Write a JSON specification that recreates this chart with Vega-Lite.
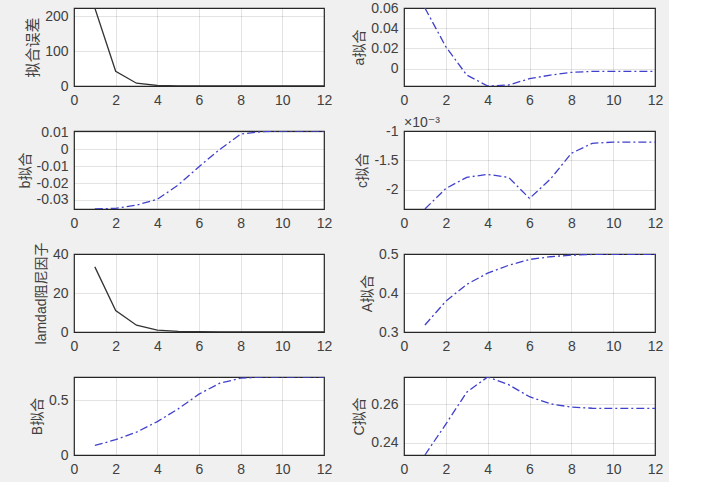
{
  "$schema": "https://vega.github.io/schema/vega-lite/v6.json",
  "background": "#f0f0f0",
  "padding": {"left": 17, "top": 0, "right": 5, "bottom": 5},
  "data": {"values": [
    {"x": 1, "err": 223, "a": 0.06, "b": -0.0353, "c": -0.00233, "lam": 33.4, "A": 0.318, "B": 0.087, "C": 0.2336},
    {"x": 2, "err": 42, "a": 0.0217, "b": -0.0349, "c": -0.00198, "lam": 11, "A": 0.379, "B": 0.139, "C": 0.2497},
    {"x": 3, "err": 8, "a": -0.0063, "b": -0.033, "c": -0.00179, "lam": 3.5, "A": 0.422, "B": 0.208, "C": 0.2664},
    {"x": 4, "err": 1.5, "a": -0.0171, "b": -0.0296, "c": -0.00174, "lam": 1.0, "A": 0.451, "B": 0.304, "C": 0.2743},
    {"x": 5, "err": 0.5, "a": -0.0161, "b": -0.0212, "c": -0.00179, "lam": 0.35, "A": 0.471, "B": 0.42, "C": 0.2703},
    {"x": 6, "err": 0.2, "a": -0.0099, "b": -0.0104, "c": -0.00215, "lam": 0.12, "A": 0.486, "B": 0.554, "C": 0.264},
    {"x": 7, "err": 0.1, "a": -0.0063, "b": -0.0002, "c": -0.00182, "lam": 0.05, "A": 0.493, "B": 0.654, "C": 0.2603},
    {"x": 8, "err": 0.05, "a": -0.0036, "b": 0.0088, "c": -0.00138, "lam": 0.02, "A": 0.497, "B": 0.699, "C": 0.2586},
    {"x": 9, "err": 0.02, "a": -0.0027, "b": 0.0102, "c": -0.00121, "lam": 0.01, "A": 0.499, "B": 0.709, "C": 0.258},
    {"x": 10, "err": 0.01, "a": -0.0026, "b": 0.0105, "c": -0.00119, "lam": 0.01, "A": 0.499, "B": 0.71, "C": 0.2579},
    {"x": 11, "err": 0.01, "a": -0.0026, "b": 0.0106, "c": -0.00119, "lam": 0.01, "A": 0.499, "B": 0.71, "C": 0.2579},
    {"x": 12, "err": 0.01, "a": -0.0026, "b": 0.0106, "c": -0.00119, "lam": 0.01, "A": 0.499, "B": 0.71, "C": 0.2579}
  ]},
  "columns": 2,
  "spacing": {"row": 45, "column": 80},
  "bounds": "flush",
  "concat": [
    {
      "width": 250, "height": 78,
      "mark": {"type": "line", "color": "#333333", "strokeWidth": 1.3, "clip": true},
      "encoding": {
        "x": {"field": "x", "type": "quantitative", "scale": {"domain": [0, 12], "nice": false}, "axis": {"values": [0, 2, 4, 6, 8, 10, 12], "title": null}},
        "y": {"field": "err", "type": "quantitative", "scale": {"domain": [0, 223], "nice": false, "zero": false}, "axis": {"values": [0, 100, 200], "title": "拟合误差", "titleFontSize": 15}}
      }
    },
    {
      "width": 251, "height": 78,
      "mark": {"type": "line", "color": "#4040cc", "strokeWidth": 1.3, "strokeDash": [8, 3, 2, 3], "clip": true},
      "encoding": {
        "x": {"field": "x", "type": "quantitative", "scale": {"domain": [0, 12], "nice": false}, "axis": {"values": [0, 2, 4, 6, 8, 10, 12], "title": null}},
        "y": {"field": "a", "type": "quantitative", "scale": {"domain": [-0.0171, 0.06], "nice": false, "zero": false}, "axis": {"values": [0, 0.02, 0.04, 0.06], "title": "a拟合"}}
      }
    },
    {
      "width": 250, "height": 78,
      "mark": {"type": "line", "color": "#4040cc", "strokeWidth": 1.3, "strokeDash": [8, 3, 2, 3], "clip": true},
      "encoding": {
        "x": {"field": "x", "type": "quantitative", "scale": {"domain": [0, 12], "nice": false}, "axis": {"values": [0, 2, 4, 6, 8, 10, 12], "title": null}},
        "y": {"field": "b", "type": "quantitative", "scale": {"domain": [-0.0353, 0.0106], "nice": false, "zero": false}, "axis": {"values": [-0.03, -0.02, -0.01, 0, 0.01], "title": "b拟合"}}
      }
    },
    {
      "width": 251, "height": 78,
      "encoding": {
        "x": {"field": "x", "type": "quantitative", "scale": {"domain": [0, 12], "nice": false}, "axis": {"values": [0, 2, 4, 6, 8, 10, 12], "title": null}},
        "y": {"field": "c", "type": "quantitative", "scale": {"domain": [-0.00233, -0.001], "nice": false, "zero": false}, "axis": {"values": [-0.002, -0.0015, -0.001], "labelExpr": "toString(round(datum.value * 100000) / 100)", "title": "c拟合"}}
      },
      "layer": [
        {
          "mark": {"type": "line", "color": "#4040cc", "strokeWidth": 1.3, "strokeDash": [8, 3, 2, 3], "clip": true}
        },
        {
          "data": {"values": [{"label": "×10⁻³", "x": 0, "c": -0.001}]},
          "mark": {"type": "text", "align": "left", "baseline": "alphabetic", "dy": -4, "fontSize": 14, "color": "#404040", "font": "Liberation Sans, DejaVu Sans, sans-serif"},
          "encoding": {
            "text": {"field": "label"}
          }
        }
      ]
    },
    {
      "width": 250, "height": 78,
      "mark": {"type": "line", "color": "#333333", "strokeWidth": 1.3, "clip": true},
      "encoding": {
        "x": {"field": "x", "type": "quantitative", "scale": {"domain": [0, 12], "nice": false}, "axis": {"values": [0, 2, 4, 6, 8, 10, 12], "title": null}},
        "y": {"field": "lam", "type": "quantitative", "scale": {"domain": [0, 40], "nice": false, "zero": false}, "axis": {"values": [0, 20, 40], "title": "lamdad阻尼因子"}}
      }
    },
    {
      "width": 251, "height": 78,
      "mark": {"type": "line", "color": "#4040cc", "strokeWidth": 1.3, "strokeDash": [8, 3, 2, 3], "clip": true},
      "encoding": {
        "x": {"field": "x", "type": "quantitative", "scale": {"domain": [0, 12], "nice": false}, "axis": {"values": [0, 2, 4, 6, 8, 10, 12], "title": null}},
        "y": {"field": "A", "type": "quantitative", "scale": {"domain": [0.3, 0.5], "nice": false, "zero": false}, "axis": {"values": [0.3, 0.4, 0.5], "title": "A拟合"}}
      }
    },
    {
      "width": 250, "height": 78,
      "mark": {"type": "line", "color": "#4040cc", "strokeWidth": 1.3, "strokeDash": [8, 3, 2, 3], "clip": true},
      "encoding": {
        "x": {"field": "x", "type": "quantitative", "scale": {"domain": [0, 12], "nice": false}, "axis": {"values": [0, 2, 4, 6, 8, 10, 12], "title": null}},
        "y": {"field": "B", "type": "quantitative", "scale": {"domain": [0, 0.71], "nice": false, "zero": false}, "axis": {"values": [0, 0.5], "title": "B拟合"}}
      }
    },
    {
      "width": 251, "height": 78,
      "mark": {"type": "line", "color": "#4040cc", "strokeWidth": 1.3, "strokeDash": [8, 3, 2, 3], "clip": true},
      "encoding": {
        "x": {"field": "x", "type": "quantitative", "scale": {"domain": [0, 12], "nice": false}, "axis": {"values": [0, 2, 4, 6, 8, 10, 12], "title": null}},
        "y": {"field": "C", "type": "quantitative", "scale": {"domain": [0.2336, 0.2743], "nice": false, "zero": false}, "axis": {"values": [0.24, 0.26], "title": "C拟合"}}
      }
    }
  ],
  "config": {
    "view": {"fill": "white", "stroke": "#262626", "strokeWidth": 1.2},
    "axis": {
      "labelFont": "Liberation Sans, DejaVu Sans, sans-serif",
      "labelFontSize": 14,
      "labelColor": "#404040",
      "labelExpr": "toString(datum.value)",
      "titleFont": "Liberation Sans, Noto Sans CJK SC, sans-serif",
      "titleFontSize": 14,
      "titleFontWeight": "normal",
      "titleColor": "#404040",
      "grid": true,
      "gridColor": "#262626",
      "gridOpacity": 0.13,
      "ticks": false,
      "domain": false,
      "labelFlush": false,
      "labelOverlap": false,
      "labelPadding": 6,
      "titlePadding": 4
    },
    "axisX": {"labelPadding": 7},
    "axisY": {"labelPadding": 6}
  }
}
